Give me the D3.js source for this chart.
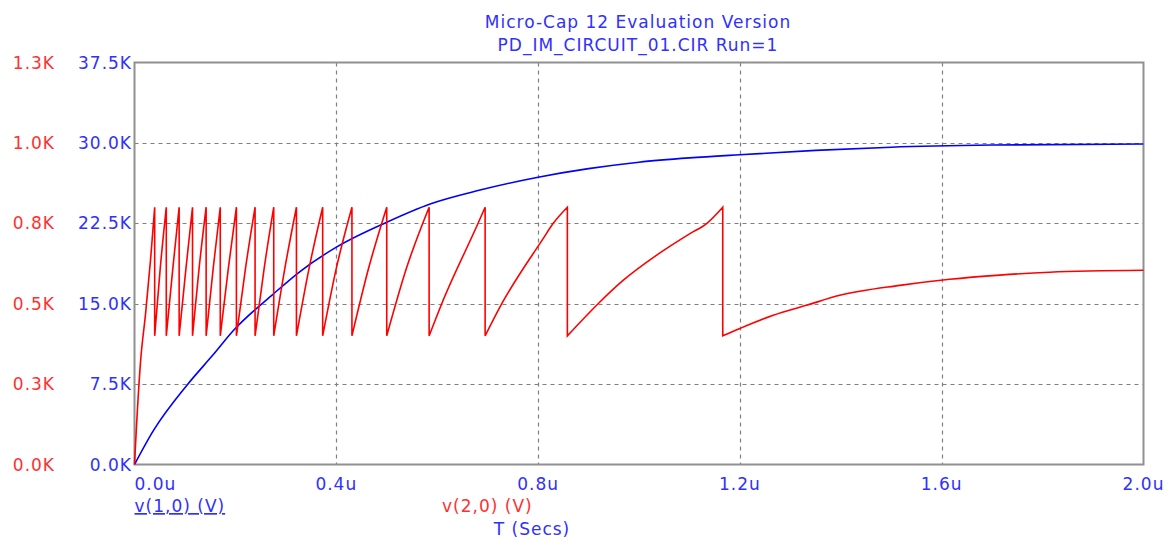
<!DOCTYPE html>
<html>
<head>
<meta charset="utf-8">
<script src="https://cdn.jsdelivr.net/npm/d3@7"></script>
<style>
  body { margin: 0; background: #fff; }
  text { font-family: "DejaVu Sans", sans-serif; font-size: 17px; letter-spacing: 1px; }
</style>
</head>
<body>
<svg id="chart" width="1167" height="540"></svg>
<script>
// time axis in microseconds, voltages in kV
var timeTicks = [0, 0.4, 0.8, 1.2, 1.6, 2.0];
var blueTicks = [0, 7.5, 15, 22.5, 30, 37.5];
var redTicks = [0, 0.25, 0.5, 0.75, 1.0, 1.25];

// v(1,0)
var blueWave = [
  [0, 0], [0.038, 3.2], [0.104, 7.4], [0.157, 10.3], [0.196, 12.5],
  [0.275, 15.9], [0.328, 18.0], [0.401, 20.3], [0.5, 22.6], [0.586, 24.3],
  [0.685, 25.6], [0.8, 26.8], [0.9, 27.6], [1.0, 28.2], [1.1, 28.6],
  [1.2, 28.9], [1.35, 29.3], [1.5, 29.6], [1.7, 29.8], [2.0, 29.9]
];

// v(2,0) -- the red sawtooth, peaks and resets
var redWave = [
  [0, 0], [0.004, 0.12], [0.012, 0.32], [0.022, 0.47], [0.032, 0.64], [0.040, 0.80],
  [0.040, 0.40], [0.051, 0.61], [0.063, 0.80],
  [0.063, 0.40], [0.076, 0.61], [0.0885, 0.80],
  [0.0885, 0.40], [0.102, 0.61], [0.115, 0.80],
  [0.115, 0.40], [0.128, 0.61], [0.142, 0.80],
  [0.142, 0.40], [0.156, 0.61], [0.170, 0.80],
  [0.170, 0.40], [0.186, 0.61], [0.202, 0.80],
  [0.202, 0.40], [0.220, 0.61], [0.239, 0.80],
  [0.239, 0.40], [0.257, 0.61], [0.276, 0.80],
  [0.276, 0.40], [0.298, 0.61], [0.321, 0.80],
  [0.321, 0.40], [0.346, 0.61], [0.373, 0.80],
  [0.373, 0.40], [0.400, 0.61], [0.431, 0.80],
  [0.431, 0.40], [0.464, 0.61], [0.500, 0.80],
  [0.500, 0.40], [0.539, 0.61], [0.584, 0.80],
  [0.584, 0.40], [0.609, 0.50], [0.681, 0.75], [0.695, 0.80],
  [0.695, 0.40], [0.728, 0.50], [0.809, 0.70], [0.830, 0.75], [0.858, 0.80],
  [0.858, 0.40], [0.919, 0.50], [0.969, 0.573], [1.035, 0.651],
  [1.101, 0.718], [1.134, 0.749], [1.166, 0.80],
  [1.166, 0.40], [1.200, 0.423], [1.266, 0.464], [1.332, 0.495],
  [1.398, 0.526], [1.517, 0.557], [1.616, 0.576], [1.715, 0.589], [1.814, 0.598],
  [2.0, 0.604]
];

var plotL = 134.5, plotR = 1143.5, plotT = 62.5, plotB = 464.5;
var blue = "#0000ff", red = "#ff0000", txtBlue = "#3030ff", txtRed = "#ff3030";

var svg = d3.select("#chart");
var x = d3.scaleLinear().domain([0, 2]).range([plotL, plotR]);
var yB = d3.scaleLinear().domain([0, 37.5]).range([plotB, plotT]);
var yR = d3.scaleLinear().domain([0, 1.25]).range([plotB, plotT]);

// grid
var grid = svg.append("g").attr("stroke", "#808080").attr("stroke-width", 1.2)
    .attr("stroke-dasharray", "4,4");
grid.selectAll("line.v").data(timeTicks.slice(1, -1)).enter().append("line")
    .attr("x1", function(d){ return Math.round(x(d)) + 0.5; })
    .attr("x2", function(d){ return Math.round(x(d)) + 0.5; })
    .attr("y1", plotT).attr("y2", plotB);
grid.selectAll("line.h").data(blueTicks.slice(1, -1)).enter().append("line")
    .attr("y1", function(d){ return Math.round(yB(d)) + 0.5; })
    .attr("y2", function(d){ return Math.round(yB(d)) + 0.5; })
    .attr("x1", plotL).attr("x2", plotR);

// frame
svg.append("rect").attr("x", plotL).attr("y", plotT)
    .attr("width", plotR - plotL).attr("height", plotB - plotT)
    .attr("fill", "none").attr("stroke", "#909090").attr("stroke-width", 2);

// traces
svg.append("clipPath").attr("id", "plot").append("rect")
    .attr("x", plotL).attr("y", plotT).attr("width", plotR - plotL).attr("height", plotB - plotT);

var smooth = d3.line().x(function(d){ return x(d[0]); })
    .curve(d3.curveMonotoneX);

svg.append("path").datum(blueWave)
    .attr("clip-path", "url(#plot)")
    .attr("fill", "none").attr("stroke", blue).attr("stroke-width", 1.6)
    .attr("d", smooth.y(function(d){ return yB(d[1]); }));

// split the sawtooth at each reset so every ramp is smoothed alone,
// then join the ramps with straight vertical drops
var ramps = [[]];
redWave.forEach(function(p, i){
    if (i > 0 && p[0] === redWave[i - 1][0]) ramps.push([]);
    ramps[ramps.length - 1].push(p);
});
var redLine = d3.line().x(function(d){ return x(d[0]); })
    .y(function(d){ return yR(d[1]); }).curve(d3.curveMonotoneX);
var redD = ramps.map(function(r, i){
    var s = redLine(r);
    return i === 0 ? s : "L" + s.slice(1);
}).join("");

svg.append("path")
    .attr("fill", "none").attr("stroke", red).attr("stroke-width", 1.6)
    .attr("d", redD);

// left axes labels
svg.selectAll("text.yb").data(blueTicks).enter().append("text")
    .attr("x", 132).attr("y", function(d){ return yB(d) + 6; })
    .attr("text-anchor", "end").attr("fill", txtBlue)
    .text(function(d){ return d.toFixed(1) + "K"; });
svg.selectAll("text.yr").data(redTicks).enter().append("text")
    .attr("x", 55).attr("y", function(d){ return yR(d) + 6; })
    .attr("text-anchor", "end").attr("fill", txtRed)
    .text(function(d){ return (Math.round(d * 10 + 1e-9) / 10).toFixed(1) + "K"; });

// bottom axis labels
svg.selectAll("text.xt").data(timeTicks).enter().append("text")
    .attr("x", function(d, i){ return i === 0 ? plotL : x(d); })
    .attr("y", 490)
    .attr("text-anchor", function(d, i){ return i === 0 ? "start" : "middle"; })
    .attr("fill", txtBlue)
    .text(function(d){ return d.toFixed(1) + "u"; });

svg.append("text").attr("x", plotL).attr("y", 512).attr("fill", txtBlue)
    .attr("text-decoration", "underline").text("v(1,0) (V)");
svg.append("text").attr("x", 442).attr("y", 512).attr("fill", txtRed).text("v(2,0) (V)");
svg.append("text").attr("x", 532).attr("y", 535).attr("text-anchor", "middle")
    .attr("fill", txtBlue).text("T (Secs)");

// title
svg.append("text").attr("x", 638).attr("y", 28).attr("text-anchor", "middle")
    .attr("fill", txtBlue).text("Micro-Cap 12 Evaluation Version");
svg.append("text").attr("x", 638).attr("y", 51).attr("text-anchor", "middle")
    .attr("fill", txtBlue).text("PD_IM_CIRCUIT_01.CIR Run=1");
</script>
</body>
</html>
